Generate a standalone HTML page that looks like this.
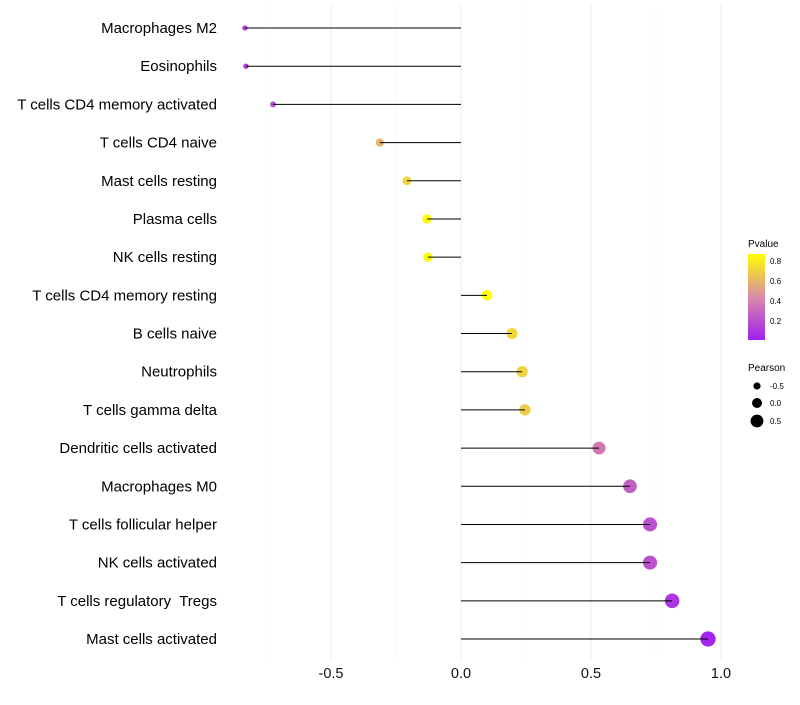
<!DOCTYPE html>
<html><head><meta charset="utf-8"><style>
body{margin:0;background:#fff;font-family:"Liberation Sans",sans-serif;}
svg text{font-family:"Liberation Sans",sans-serif;}
</style></head><body>
<svg id="chart" width="800" height="700">
<defs><linearGradient id="pg" x1="0" y1="1" x2="0" y2="0">
<stop offset="0" stop-color="#a020f0"/><stop offset="0.5" stop-color="#d98aa8"/><stop offset="1" stop-color="#ffff00"/>
</linearGradient></defs>
<g id="grid"></g><g id="marks"></g><g id="stems"></g><g id="labels"></g>
<g>
<text x="748" y="247" font-size="10">Pvalue</text>
<rect x="748" y="254" width="17" height="86" fill="url(#pg)"/>
<text x="770" y="264" font-size="8">0.8</text>
<text x="770" y="284" font-size="8">0.6</text>
<text x="770" y="304" font-size="8">0.4</text>
<text x="770" y="324" font-size="8">0.2</text>
</g>
<g>
<text x="748" y="371" font-size="10">Pearson</text>
<circle cx="757" cy="386" r="3.6" fill="#000"/><text x="770" y="389" font-size="8">-0.5</text>
<circle cx="757" cy="403" r="5" fill="#000"/><text x="770" y="406" font-size="8">0.0</text>
<circle cx="757" cy="421" r="6.4" fill="#000"/><text x="770" y="424" font-size="8">0.5</text>
</g>
</svg>
<script>
const categories=["Macrophages M2","Eosinophils","T cells CD4 memory activated","T cells CD4 naive","Mast cells resting","Plasma cells","NK cells resting","T cells CD4 memory resting","B cells naive","Neutrophils","T cells gamma delta","Dendritic cells activated","Macrophages M0","T cells follicular helper","NK cells activated","T cells regulatory  Tregs","Mast cells activated"];
const pearson=[-0.831,-0.827,-0.723,-0.312,-0.208,-0.131,-0.127,0.1,0.196,0.235,0.246,0.531,0.65,0.727,0.727,0.812,0.95];
const pvalues=[0.12,0.12,0.2,0.6,0.72,0.86,0.86,0.88,0.72,0.7,0.68,0.36,0.26,0.2,0.2,0.1,0.02];
const xTicks=[-0.5,0,0.5,1];
const xTickLabels=["-0.5","0.0","0.5","1.0"];
const NS="http://www.w3.org/2000/svg";
const xs=v=>461+v*260;
const ys=i=>28+i*(611/16);
function col(p){const t=Math.max(0,Math.min(1,p/0.87));
 const a=[160,32,240],m=[217,138,168],b=[255,255,0];let c;
 if(t<0.5){const u=t/0.5;c=a.map((v,k)=>v+(m[k]-v)*u);}else{const u=(t-0.5)/0.5;c=m.map((v,k)=>v+(b[k]-v)*u);}
 return `rgb(${c.map(Math.round).join(',')})`;}
function mk(tag,attrs,parent){const e=document.createElementNS(NS,tag);for(const k in attrs)e.setAttribute(k,attrs[k]);parent.appendChild(e);return e;}
const grid=document.getElementById('grid'),marks=document.getElementById('marks'),stems=document.getElementById('stems'),labels=document.getElementById('labels');
[-0.75,-0.25,0.25,0.75].forEach(v=>{const l=mk('line',{x1:xs(v),x2:xs(v),y1:5,y2:660,stroke:'#f3f3f3','stroke-width':0.6},grid);

});
xTicks.forEach((v,i)=>{const l=mk('line',{x1:xs(v),x2:xs(v),y1:5,y2:660,stroke:'#ebebeb','stroke-width':1},grid);


const t=mk('text',{x:xs(v),y:678,'font-size':14.5,'text-anchor':'middle',fill:'#111'},labels);t.textContent=xTickLabels[i];

});
categories.forEach((c,i)=>{const y=ys(i);
 const t=mk('text',{x:217,y:y+5,'font-size':15,'text-anchor':'end',fill:'#000','xml:space':'preserve',style:'white-space:pre'},labels);t.textContent=c;
 
 
 const r=Math.max(2,5+2.8*pearson[i]);
 const ci=mk('circle',{cx:xs(pearson[i]),cy:y,r:r,fill:col(pvalues[i])},marks);
 
 
 const ln=mk('line',{x1:xs(0),x2:xs(pearson[i]),y1:y,y2:y,stroke:'#000','stroke-width':1},stems);
 
 
});
</script>
</body></html>
